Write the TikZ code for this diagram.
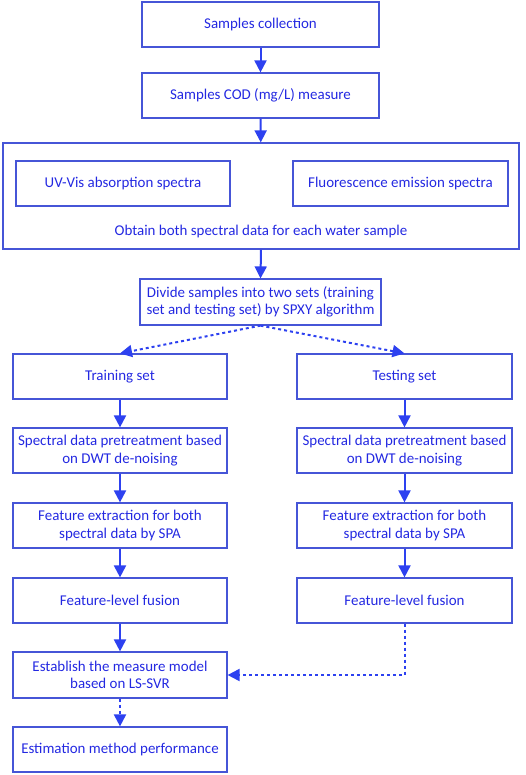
\documentclass[tikz,border=0pt]{standalone}
\usepackage{fontspec}
\setmainfont{Carlito}
\usetikzlibrary{arrows.meta,positioning,calc}
\definecolor{boxc}{RGB}{70,85,215}
\definecolor{txtc}{RGB}{35,40,225}
\definecolor{arrc}{RGB}{45,65,240}
\tikzset{
  txtf/.style={font=\fontsize{15}{17.7}\selectfont},
  box/.style={draw=boxc, line width=1.2bp, text=txtc, align=center, minimum height=45bp, inner sep=0pt, txtf},
  flow/.style={draw=arrc, line width=2bp, -{Triangle[length=12bp,width=12bp]}},
  dflow/.style={flow, dash pattern=on 3bp off 3bp},
}
\begin{document}
\begin{tikzpicture}[x=1bp,y=-1bp]
\useasboundingbox (0,0) rectangle (526,775);
\node[box, minimum width=237bp] (n1) at (260.5,24.5) {Samples collection};
\node[box, minimum width=237bp] (n2) at (260.5,95.5) {Samples COD (mg/L) measure};
\node[box, minimum width=516bp, minimum height=106bp] (big) at (261,196) {};
\node[box, minimum width=214bp] (uv) at (123,183.5) {UV-Vis absorption spectra};
\node[box, minimum width=215bp] (fl) at (400.5,183.5) {Fluorescence emission spectra};
\node[text=txtc, txtf] (ob) at (261,231.5) {Obtain both spectral data for each water sample};
\node[box, minimum width=241bp, minimum height=46bp] (div) at (260.5,302) {Divide samples into two sets (training\\set and testing set) by SPXY algorithm};
\node[box, minimum width=214bp] (trn) at (120,376.5) {Training set};
\node[box, minimum width=215bp] (tst) at (404.5,376.5) {Testing set};
\node[box, minimum width=214bp] (preL) at (120,450.5) {Spectral data pretreatment based\\on DWT de-noising};
\node[box, minimum width=215bp] (preR) at (404.5,450.5) {Spectral data pretreatment based\\on DWT de-noising};
\node[box, minimum width=214bp] (feL) at (120,525.5) {Feature extraction for both\\spectral data by SPA};
\node[box, minimum width=215bp] (feR) at (404.5,525.5) {Feature extraction for both\\spectral data by SPA};
\node[box, minimum width=214bp] (fuL) at (120,600.5) {Feature-level fusion};
\node[box, minimum width=215bp] (fuR) at (404.5,600.5) {Feature-level fusion};
\node[box, minimum width=214bp, minimum height=46bp] (est) at (120,675) {Establish the measure model\\based on LS-SVR};
\node[box, minimum width=214bp] (perf) at (120,749.5) {Estimation method performance};
\draw[flow] (n1) -- (n2);
\draw[flow] (n2) -- (big);
\draw[flow] (big.south) -- (div.north);
\draw[dflow] (div.south) -- (trn.north);
\draw[dflow] (div.south) -- (tst.north);
\draw[flow] (trn) -- (preL);
\draw[flow] (preL) -- (feL);
\draw[flow] (feL) -- (fuL);
\draw[flow] (fuL) -- (est);
\draw[flow] (tst) -- (preR);
\draw[flow] (preR) -- (feR);
\draw[flow] (feR) -- (fuR);
\draw[dflow] (fuR.south) |- (est.east);
\draw[dflow] (est) -- (perf);
\end{tikzpicture}
\end{document}
